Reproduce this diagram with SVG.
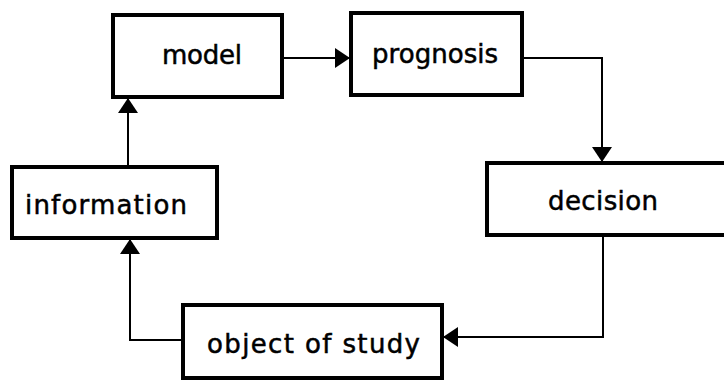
<svg xmlns="http://www.w3.org/2000/svg" width="724" height="381" viewBox="0 0 724 381">
<style>
.box{fill:#fff;stroke:#000;stroke-width:4;stroke-linejoin:miter}
.lbl{font-family:"DejaVu Sans","Liberation Sans",sans-serif;font-size:26px;fill:#000;stroke:#000;stroke-width:0.5}
.con{fill:none;stroke:#000;stroke-width:2}
</style>
<defs>
<marker id="arr" markerUnits="userSpaceOnUse" markerWidth="16" markerHeight="20" refX="15" refY="10" orient="auto" viewBox="0 0 16 20">
<path d="M0,0 L15,10 L0,20 z" fill="#000"/>
</marker>
</defs>
<rect width="724" height="381" fill="#fff"/>
<g id="connectors">
<path class="con" d="M282 58 H350" marker-end="url(#arr)"/>
<path class="con" d="M522 58 H602 V162" marker-end="url(#arr)"/>
<path class="con" d="M603 235 V337 H443" marker-end="url(#arr)"/>
<path class="con" d="M183 340 H130 V239" marker-end="url(#arr)"/>
<path class="con" d="M128 167 V98" marker-end="url(#arr)"/>
</g>
<g id="model">
<rect class="box" x="113" y="15" width="169" height="82"/>
<text class="lbl" x="162" y="64" textLength="80" lengthAdjust="spacing">model</text>
</g>
<g id="prognosis">
<rect class="box" x="351" y="13" width="171" height="82"/>
<text class="lbl" x="372" y="63" textLength="126" lengthAdjust="spacing">prognosis</text>
</g>
<g id="decision">
<path class="box" d="M730 163 H487 V235 H730"/>
<text class="lbl" x="548" y="210" textLength="110" lengthAdjust="spacing">decision</text>
</g>
<g id="information">
<rect class="box" x="12" y="167" width="205" height="71"/>
<text class="lbl" x="25" y="214" textLength="162" lengthAdjust="spacing">information</text>
</g>
<g id="object">
<rect class="box" x="183" y="305" width="259" height="73"/>
<text class="lbl" x="207" y="353" textLength="213" lengthAdjust="spacing">object of study</text>
</g>
</svg>
